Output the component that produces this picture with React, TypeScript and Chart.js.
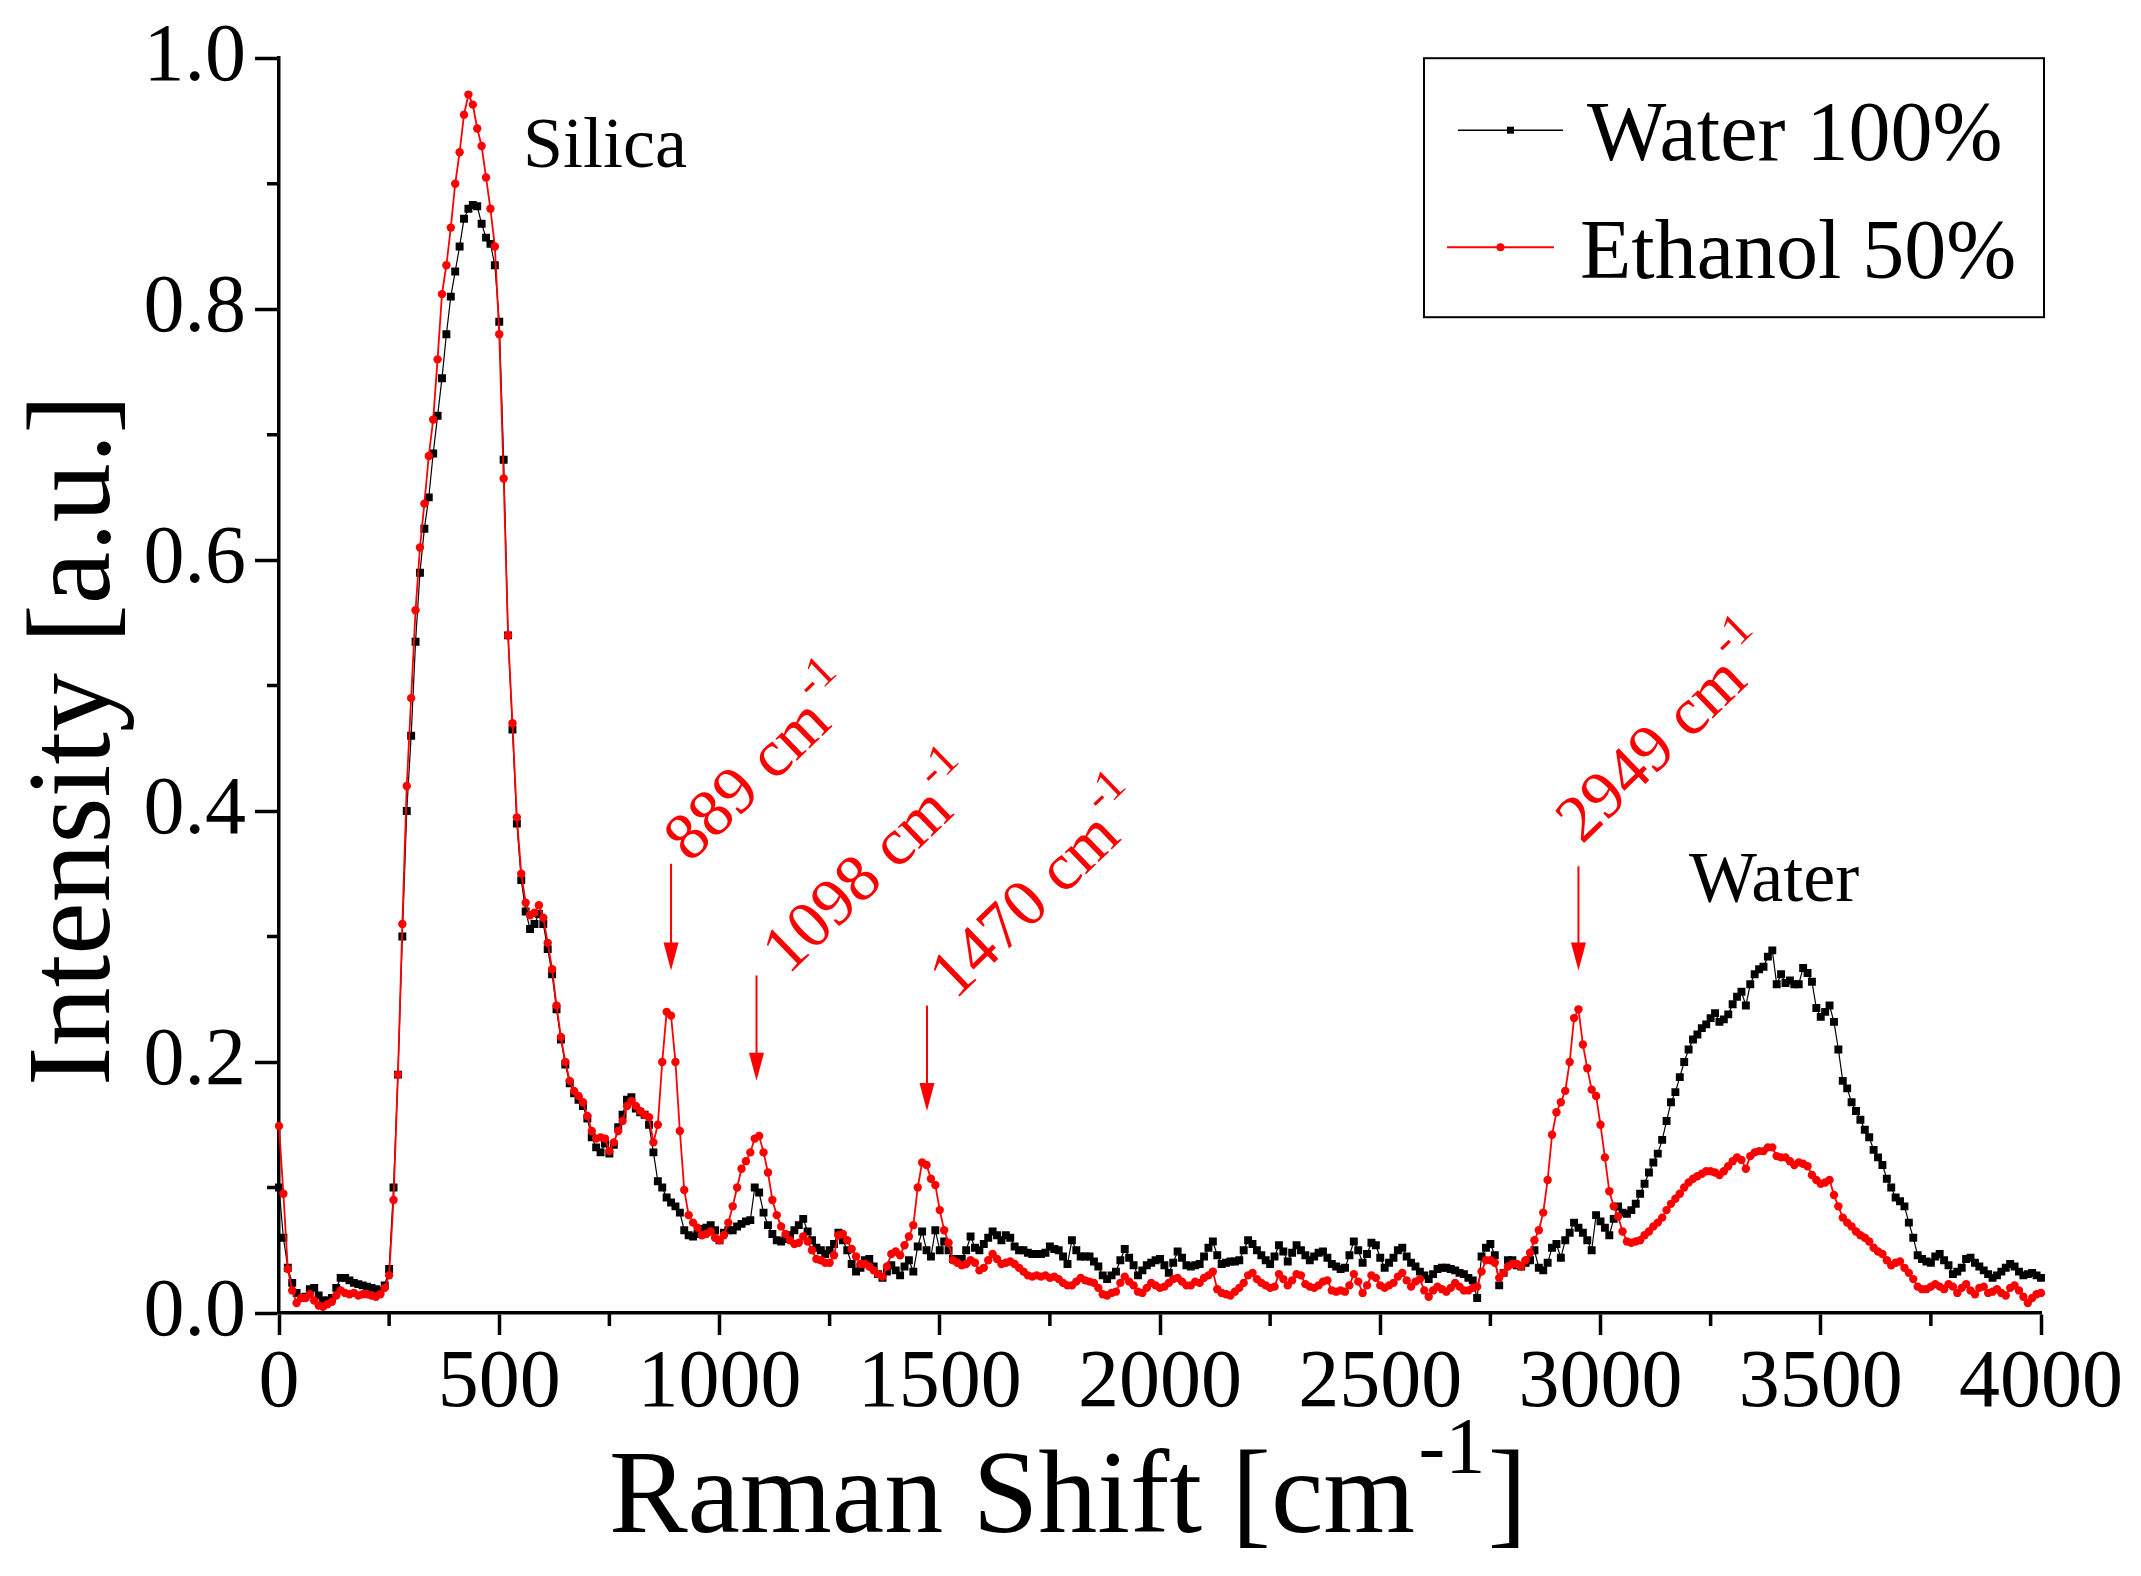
import React, { useEffect, useRef } from "react";
import { Chart, registerables, Plugin } from "chart.js";

Chart.register(...registerables);

// spectra are sampled every 10 cm-1, first sample at 0 cm-1
const SHIFT_STEP = 10;

const waterIntensity = [
  0.100, 0.060, 0.036, 0.024, 0.016, 0.012, 0.013, 0.019, 0.020, 0.014,
  0.010, 0.010, 0.012, 0.020, 0.028, 0.028, 0.026, 0.024, 0.023, 0.022,
  0.021, 0.020, 0.019, 0.018, 0.022, 0.035, 0.100, 0.190, 0.300, 0.400,
  0.460, 0.535, 0.590, 0.625, 0.650, 0.685, 0.715, 0.745, 0.780, 0.810,
  0.830, 0.850, 0.872, 0.880, 0.883, 0.882, 0.868, 0.857, 0.852, 0.835,
  0.790, 0.680, 0.540, 0.465, 0.390, 0.345, 0.320, 0.306, 0.310, 0.318,
  0.310, 0.290, 0.270, 0.242, 0.218, 0.198, 0.183, 0.175, 0.170, 0.165,
  0.155, 0.140, 0.132, 0.128, 0.135, 0.127, 0.134, 0.148, 0.158, 0.170,
  0.172, 0.163, 0.160, 0.158, 0.150, 0.128, 0.105, 0.100, 0.092, 0.088,
  0.085, 0.080, 0.066, 0.062, 0.061, 0.063, 0.067, 0.068, 0.070, 0.066,
  0.058, 0.064, 0.066, 0.066, 0.069, 0.071, 0.073, 0.074, 0.100, 0.096,
  0.080, 0.070, 0.063, 0.058, 0.057, 0.059, 0.062, 0.066, 0.070, 0.075,
  0.065, 0.058, 0.052, 0.050, 0.047, 0.050, 0.055, 0.064, 0.058, 0.050,
  0.039, 0.033, 0.036, 0.042, 0.043, 0.037, 0.031, 0.028, 0.033, 0.038,
  0.034, 0.030, 0.037, 0.042, 0.033, 0.053, 0.065, 0.050, 0.045, 0.066,
  0.050, 0.057, 0.050, 0.043, 0.043, 0.043, 0.050, 0.061, 0.052, 0.050,
  0.055, 0.060, 0.065, 0.062, 0.058, 0.062, 0.060, 0.053, 0.050, 0.050,
  0.048, 0.047, 0.047, 0.047, 0.048, 0.053, 0.051, 0.050, 0.045, 0.039,
  0.058, 0.050, 0.045, 0.045, 0.045, 0.041, 0.037, 0.030, 0.027, 0.030,
  0.033, 0.042, 0.051, 0.044, 0.038, 0.030, 0.034, 0.038, 0.040, 0.042,
  0.043, 0.038, 0.032, 0.040, 0.049, 0.044, 0.038, 0.037, 0.038, 0.039,
  0.045, 0.052, 0.057, 0.046, 0.039, 0.040, 0.041, 0.041, 0.042, 0.050,
  0.058, 0.055, 0.050, 0.046, 0.042, 0.039, 0.045, 0.054, 0.049, 0.041,
  0.048, 0.054, 0.050, 0.046, 0.042, 0.045, 0.048, 0.049, 0.044, 0.039,
  0.037, 0.035, 0.036, 0.046, 0.057, 0.050, 0.040, 0.047, 0.056, 0.054,
  0.044, 0.036, 0.040, 0.044, 0.050, 0.052, 0.045, 0.040, 0.037, 0.033,
  0.030, 0.027, 0.031, 0.035, 0.036, 0.036, 0.035, 0.034, 0.032, 0.031,
  0.028, 0.026, 0.012, 0.045, 0.052, 0.055, 0.046, 0.022, 0.032, 0.042,
  0.042, 0.038, 0.037, 0.040, 0.042, 0.050, 0.036, 0.034, 0.040, 0.052,
  0.055, 0.044, 0.058, 0.064, 0.072, 0.068, 0.064, 0.058, 0.050, 0.078,
  0.073, 0.068, 0.062, 0.075, 0.085, 0.080, 0.079, 0.082, 0.087, 0.095,
  0.103, 0.112, 0.120, 0.127, 0.138, 0.153, 0.168, 0.176, 0.188, 0.200,
  0.210, 0.218, 0.222, 0.227, 0.230, 0.235, 0.239, 0.232, 0.234, 0.238,
  0.246, 0.252, 0.256, 0.245, 0.262, 0.270, 0.274, 0.276, 0.284, 0.289,
  0.262, 0.270, 0.263, 0.265, 0.262, 0.262, 0.275, 0.271, 0.264, 0.243,
  0.236, 0.240, 0.245, 0.232, 0.210, 0.185, 0.179, 0.168, 0.161, 0.154,
  0.146, 0.140, 0.130, 0.124, 0.118, 0.107, 0.100, 0.092, 0.089, 0.085,
  0.072, 0.060, 0.046, 0.043, 0.041, 0.040, 0.045, 0.047, 0.042, 0.038,
  0.031, 0.033, 0.036, 0.043, 0.044, 0.040, 0.037, 0.034, 0.031, 0.028,
  0.030, 0.033, 0.036, 0.039, 0.037, 0.033, 0.030, 0.031, 0.032, 0.030,
  0.028,
];

const ethanolIntensity = [
  0.149, 0.095, 0.035, 0.018, 0.008, 0.012, 0.012, 0.015, 0.010, 0.006,
  0.005, 0.007, 0.009, 0.014, 0.018, 0.016, 0.015, 0.016, 0.014, 0.015,
  0.015, 0.014, 0.013, 0.015, 0.020, 0.030, 0.090, 0.190, 0.310, 0.420,
  0.490, 0.560, 0.610, 0.645, 0.683, 0.712, 0.760, 0.812, 0.835, 0.865,
  0.900, 0.925, 0.955, 0.971, 0.963, 0.944, 0.930, 0.905, 0.880, 0.850,
  0.780, 0.665, 0.540, 0.470, 0.395, 0.350, 0.327, 0.317, 0.319, 0.325,
  0.315, 0.295, 0.274, 0.245, 0.220, 0.200, 0.185, 0.177, 0.173, 0.168,
  0.157, 0.145, 0.139, 0.140, 0.139, 0.129, 0.136, 0.145, 0.153, 0.165,
  0.169, 0.165, 0.161, 0.158, 0.156, 0.136, 0.150, 0.200, 0.240, 0.237,
  0.200, 0.145, 0.098, 0.078, 0.072, 0.068, 0.062, 0.063, 0.065, 0.060,
  0.058, 0.062, 0.072, 0.085, 0.100, 0.115, 0.121, 0.128, 0.139, 0.141,
  0.128, 0.112, 0.090, 0.078, 0.069, 0.063, 0.058, 0.055, 0.056, 0.061,
  0.057, 0.050, 0.043, 0.042, 0.040, 0.040, 0.046, 0.062, 0.063, 0.058,
  0.051, 0.045, 0.039, 0.039, 0.037, 0.034, 0.031, 0.029, 0.037, 0.047,
  0.049, 0.046, 0.054, 0.061, 0.070, 0.100, 0.120, 0.118, 0.107, 0.102,
  0.082, 0.066, 0.056, 0.042, 0.040, 0.038, 0.039, 0.042, 0.040, 0.034,
  0.036, 0.042, 0.047, 0.043, 0.039, 0.040, 0.041, 0.039, 0.036, 0.033,
  0.030, 0.029, 0.030, 0.029, 0.030, 0.028, 0.029, 0.027, 0.024, 0.022,
  0.022, 0.025, 0.028, 0.026, 0.025, 0.024, 0.020, 0.015, 0.014, 0.016,
  0.017, 0.024, 0.029, 0.025, 0.022, 0.017, 0.016, 0.020, 0.024, 0.022,
  0.020, 0.021, 0.024, 0.027, 0.028, 0.025, 0.022, 0.022, 0.025, 0.024,
  0.028, 0.030, 0.033, 0.019, 0.016, 0.015, 0.014, 0.017, 0.020, 0.024,
  0.030, 0.032, 0.027, 0.024, 0.022, 0.020, 0.021, 0.031, 0.027, 0.022,
  0.026, 0.031, 0.030, 0.023, 0.021, 0.020, 0.022, 0.025, 0.026, 0.018,
  0.017, 0.018, 0.017, 0.022, 0.031, 0.025, 0.016, 0.022, 0.030, 0.028,
  0.022, 0.020, 0.022, 0.024, 0.029, 0.032, 0.026, 0.021, 0.025, 0.027,
  0.018, 0.013, 0.018, 0.021, 0.019, 0.017, 0.020, 0.024, 0.021, 0.018,
  0.018, 0.020, 0.021, 0.033, 0.042, 0.042, 0.040, 0.028, 0.032, 0.037,
  0.039, 0.039, 0.037, 0.042, 0.048, 0.058, 0.066, 0.080, 0.106, 0.142,
  0.160, 0.168, 0.177, 0.200, 0.235, 0.242, 0.214, 0.195, 0.178, 0.173,
  0.150, 0.124, 0.097, 0.085, 0.077, 0.065, 0.057, 0.056, 0.057, 0.058,
  0.062, 0.065, 0.069, 0.072, 0.076, 0.082, 0.087, 0.091, 0.095, 0.100,
  0.104, 0.107, 0.109, 0.111, 0.113, 0.113, 0.112, 0.110, 0.113, 0.117,
  0.121, 0.124, 0.122, 0.115, 0.125, 0.128, 0.129, 0.129, 0.132, 0.132,
  0.125, 0.124, 0.124, 0.121, 0.118, 0.120, 0.119, 0.117, 0.110, 0.106,
  0.103, 0.104, 0.106, 0.094, 0.085, 0.076, 0.072, 0.069, 0.065, 0.062,
  0.060, 0.057, 0.052, 0.049, 0.047, 0.042, 0.038, 0.040, 0.041, 0.036,
  0.032, 0.027, 0.021, 0.019, 0.019, 0.021, 0.023, 0.021, 0.019, 0.023,
  0.021, 0.016, 0.020, 0.023, 0.018, 0.015, 0.020, 0.021, 0.016, 0.017,
  0.019, 0.016, 0.014, 0.020, 0.022, 0.018, 0.013, 0.008, 0.012, 0.015,
  0.016,
];

const seriesNames = ["Water 100%", "Ethanol 50%"];

// red peak markers: label, arrow position, arrow top / tip, label anchor (data units)
const peakLabels = ["889", "1098", "1470", "2949"];
const peakArrowX = [890, 1084, 1471, 2950];
const peakArrowTop = [0.358, 0.269, 0.245, 0.356];
const peakArrowTip = [0.273, 0.185, 0.161, 0.273];
const peakLabelX = [933, 1156, 1535, 2958];
const peakLabelY = [0.358, 0.269, 0.249, 0.373];

const bandNames = ["Silica", "Water"];
const bandX = [554, 3201];
const bandY = [0.913, 0.328];

const SERIF = "'Liberation Serif', 'Times New Roman', serif";
const RED = "#ff0000";

const toPoints = (values: number[]) =>
  values.map((y, i) => ({ x: i * SHIFT_STEP, y }));

// text with a "-1" superscript, left-aligned on the baseline at the origin
const supWidth = (ctx: CanvasRenderingContext2D, main: string, tail: string, size: number) => {
  ctx.font = `${size}px ${SERIF}`;
  const a = ctx.measureText(main).width + ctx.measureText(tail).width;
  ctx.font = `${size * 0.68}px ${SERIF}`;
  return a + ctx.measureText("-1").width + size * 0.05;
};

const drawSup = (ctx: CanvasRenderingContext2D, main: string, tail: string, size: number) => {
  ctx.textAlign = "left";
  ctx.textBaseline = "alphabetic";
  ctx.font = `${size}px ${SERIF}`;
  ctx.fillText(main, 0, 0);
  let x = ctx.measureText(main).width + size * 0.03;
  ctx.font = `${size * 0.68}px ${SERIF}`;
  ctx.fillText("-1", x, -size * 0.5);
  x += ctx.measureText("-1").width + size * 0.02;
  ctx.font = `${size}px ${SERIF}`;
  if (tail) ctx.fillText(tail, x, 0);
};

const minorTicks: Plugin = {
  id: "minorTicks",
  afterDraw(chart) {
    const { ctx, chartArea } = chart;
    const xs = chart.scales.x;
    const ys = chart.scales.y;
    ctx.save();
    ctx.strokeStyle = "#000";
    ctx.lineWidth = 3.5;
    ctx.beginPath();
    for (let v = 250; v < 4000; v += 500) {
      const px = xs.getPixelForValue(v);
      ctx.moveTo(px, chartArea.bottom);
      ctx.lineTo(px, chartArea.bottom + 13);
    }
    for (let k = 1; k < 10; k += 2) {
      const py = ys.getPixelForValue(k / 10);
      ctx.moveTo(chartArea.left, py);
      ctx.lineTo(chartArea.left - 12, py);
    }
    ctx.stroke();
    ctx.restore();
  },
};

const decorations: Plugin = {
  id: "decorations",
  afterDraw(chart) {
    const { ctx, chartArea } = chart;
    const xs = chart.scales.x;
    const ys = chart.scales.y;
    ctx.save();

    // axis titles
    ctx.fillStyle = "#000";
    const tSize = 118;
    const w = supWidth(ctx, "Raman Shift [cm", "]", tSize);
    ctx.save();
    ctx.translate(chartArea.left + 789 - w / 2, chartArea.bottom + 219);
    drawSup(ctx, "Raman Shift [cm", "]", tSize);
    ctx.restore();

    ctx.save();
    ctx.translate(chartArea.left - 201, chartArea.top + 682);
    ctx.rotate(-Math.PI / 2);
    ctx.font = `${tSize}px ${SERIF}`;
    ctx.textAlign = "center";
    ctx.textBaseline = "middle";
    ctx.fillText("Intensity [a.u.]", 0, 0);
    ctx.restore();

    // band names
    ctx.font = `72px ${SERIF}`;
    ctx.textAlign = "left";
    ctx.textBaseline = "alphabetic";
    bandNames.forEach((name, i) => {
      ctx.fillText(name, xs.getPixelForValue(bandX[i]), ys.getPixelForValue(bandY[i]));
    });

    // peak arrows and rotated labels
    ctx.fillStyle = RED;
    ctx.strokeStyle = RED;
    ctx.lineWidth = 2;
    peakLabels.forEach((label, i) => {
      const px = xs.getPixelForValue(peakArrowX[i]);
      const top = ys.getPixelForValue(peakArrowTop[i]);
      const tip = ys.getPixelForValue(peakArrowTip[i]);
      ctx.beginPath();
      ctx.moveTo(px, top);
      ctx.lineTo(px, tip - 20);
      ctx.stroke();
      ctx.beginPath();
      ctx.moveTo(px - 7.5, tip - 28);
      ctx.lineTo(px + 7.5, tip - 28);
      ctx.lineTo(px, tip);
      ctx.closePath();
      ctx.fill();

      ctx.save();
      ctx.translate(xs.getPixelForValue(peakLabelX[i]), ys.getPixelForValue(peakLabelY[i]));
      ctx.rotate((-44 * Math.PI) / 180);
      drawSup(ctx, `${label} cm`, "", 67);
      ctx.restore();
    });

    // legend box
    const bx = chartArea.right - 617;
    const by = chartArea.top;
    ctx.strokeStyle = "#000";
    ctx.lineWidth = 2;
    ctx.strokeRect(bx, by, 620, 259);
    const rows = [
      { y: 72, base: 102, l0: 34, l1: 139, tx: 163, w: 1.5 },
      { y: 189, base: 220, l0: 23, l1: 130, tx: 156, w: 2 },
    ];
    chart.data.datasets.forEach((ds, i) => {
      const r = rows[i];
      const color = ds.borderColor as string;
      ctx.strokeStyle = color;
      ctx.fillStyle = color;
      ctx.lineWidth = r.w;
      ctx.beginPath();
      ctx.moveTo(bx + r.l0, by + r.y);
      ctx.lineTo(bx + r.l1, by + r.y);
      ctx.stroke();
      const mx = bx + (r.l0 + r.l1) / 2;
      if (i === 0) {
        ctx.fillRect(mx - 3.5, by + r.y - 3.5, 7, 7);
      } else {
        ctx.beginPath();
        ctx.arc(mx, by + r.y, 4, 0, Math.PI * 2);
        ctx.fill();
      }
      ctx.fillStyle = "#000";
      ctx.font = `84px ${SERIF}`;
      ctx.textAlign = "left";
      ctx.textBaseline = "alphabetic";
      ctx.fillText(ds.label as string, bx + r.tx, by + r.base);
    });

    ctx.restore();
  },
};

const App = () => {
  const canvasRef = useRef<HTMLCanvasElement>(null);
  const chartRef = useRef<Chart | null>(null);

  useEffect(() => {
    if (!canvasRef.current) return;
    const tickFont = { family: SERIF, size: 82 };
    chartRef.current = new Chart(canvasRef.current, {
      type: "line",
      data: {
        datasets: [
          {
            label: seriesNames[0],
            data: toPoints(waterIntensity),
            borderColor: "#000000",
            backgroundColor: "#000000",
            borderWidth: 1.2,
            pointStyle: "rect",
            pointRadius: 5.6,
            pointBorderWidth: 0,
            pointBackgroundColor: "#000000",
            tension: 0,
            order: 2,
            clip: 8,
          },
          {
            label: seriesNames[1],
            data: toPoints(ethanolIntensity),
            borderColor: RED,
            backgroundColor: RED,
            borderWidth: 1.8,
            pointStyle: "circle",
            pointRadius: 4.2,
            pointBorderWidth: 0,
            pointBackgroundColor: RED,
            tension: 0,
            order: 1,
            clip: 8,
          },
        ],
      },
      options: {
        responsive: false,
        animation: false,
        devicePixelRatio: 1,
        layout: { padding: { top: 55, right: 100, left: 0, bottom: 0 } },
        plugins: {
          legend: { display: false },
          tooltip: { enabled: false },
        },
        scales: {
          x: {
            type: "linear",
            min: 0,
            max: 4000,
            ticks: {
              stepSize: 500,
              color: "#000",
              font: tickFont,
              padding: 0,
              maxRotation: 0,
              callback: (v) => String(Math.round(Number(v))),
            },
            grid: {
              drawOnChartArea: false,
              tickLength: 22,
              tickWidth: 3.5,
              tickColor: "#000",
            },
            border: { display: true, color: "#000", width: 3.5 },
            afterFit: (scale) => {
              scale.height = 263;
            },
          },
          y: {
            type: "linear",
            min: 0,
            max: 1,
            ticks: {
              stepSize: 0.2,
              color: "#000",
              font: tickFont,
              padding: 9,
              callback: (v) => Number(v).toFixed(1),
            },
            grid: {
              drawOnChartArea: false,
              tickLength: 24,
              tickWidth: 3.5,
              tickColor: "#000",
            },
            border: { display: true, color: "#000", width: 3.5 },
            afterFit: (scale) => {
              scale.width = 279;
            },
          },
        },
      },
      plugins: [minorTicks, decorations],
    });
    return () => {
      chartRef.current?.destroy();
      chartRef.current = null;
    };
  }, []);

  return (
    <div style={{ position: "absolute", left: 0, top: 0, width: 2141, height: 1576, background: "#fff" }}>
      <canvas ref={canvasRef} width={2141} height={1576} style={{ display: "block" }} />
    </div>
  );
};

export default App;
